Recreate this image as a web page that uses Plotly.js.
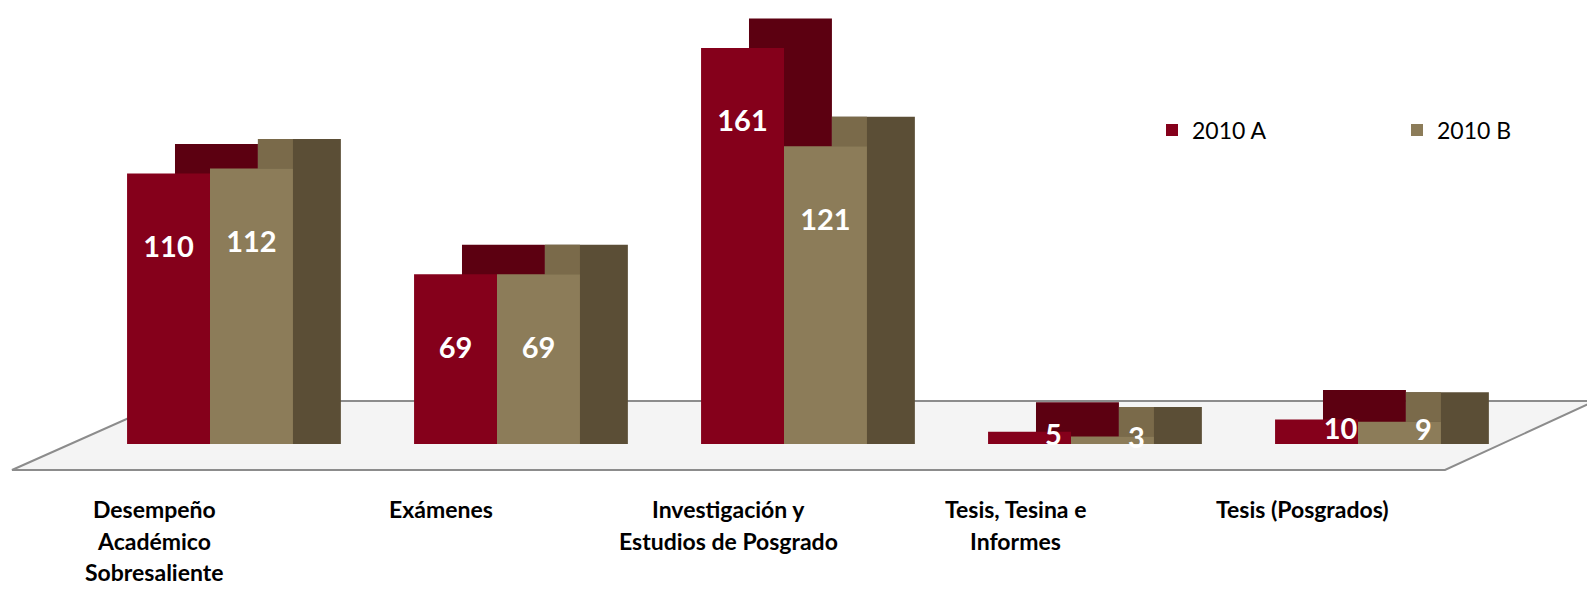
<!DOCTYPE html>
<html><head><meta charset="utf-8">
<script src="https://cdn.plot.ly/plotly-3.0.1.min.js"></script>
<style>html,body{margin:0;padding:0;background:#fff}#chart{width:1587px;height:589px}</style>
</head><body><div id="chart"></div>
<script>
// ---- data ----
const categories = ["Desempeño Académico Sobresaliente", "Exámenes", "Investigación y Estudios de Posgrado", "Tesis, Tesina e Informes", "Tesis (Posgrados)"];
const tickLabels = [["Desempeño", "Académico", "Sobresaliente"], ["Exámenes"], ["Investigación y", "Estudios de Posgrado"], ["Tesis, Tesina e", "Informes"], ["Tesis (Posgrados)"]];
const seriesNames = ["2010 A", "2010 B"];
const values2010A = [110, 69, 161, 5, 10];
const values2010B = [112, 69, 121, 3, 9];

// ---- layout / style ----
const FIG_W = 1587, FIG_H = 589, PLOT_H = 444;
const W = 0.289;      // front face width (category units)
const DX = 0.167;     // 3D depth offset, x (category units)
const DY = 12;        // 3D depth offset, y (value units)
const YMAX = 180.5;
const idx = categories.map((c, i) => i);
const colA = {front: "#85001b", depth: "#5c0011"};
const colB = {front: "#8c7c59", depth: "#5b4e36", top: "#7a6a4a"};
const FONT = "Lato, 'Open Sans', sans-serif";

const skip = {showlegend: false, hoverinfo: "skip"};
const traces = [
  Object.assign({type: "bar", x: idx, y: values2010A.map(v => v + DY), base: 0, offset: -W + DX, width: W,
    marker: {color: colA.depth}}, skip),
  {type: "bar", name: seriesNames[0], x: idx, y: values2010A, offset: -W, width: W,
    marker: {color: colA.front}, hovertext: categories, hoverinfo: "text+y+name"},
  Object.assign({type: "bar", x: idx, y: values2010B.map(v => v + DY), base: 0, offset: DX, width: W,
    marker: {color: colB.depth}}, skip),
  Object.assign({type: "bar", x: idx, y: values2010B.map(() => DY), base: values2010B, offset: DX, width: W - DX,
    marker: {color: colB.top}}, skip),
  {type: "bar", name: seriesNames[1], x: idx, y: values2010B, offset: 0, width: W,
    marker: {color: colB.front}, hovertext: categories, hoverinfo: "text+y+name"},
];

function labelY(v) { return v > 40 ? v - 31 : v / 2; }
function labelX(i, v, side) { return i + side * W / 2 + (v > 40 ? 0 : DX / 2); }
[values2010A, values2010B].forEach((vals, s) => {
  const side = s === 0 ? -1 : 1;
  traces.push(Object.assign({
    type: "scatter", mode: "text",
    x: vals.map((v, i) => labelX(i, v, side)),
    y: vals.map(labelY),
    text: vals.map(String),
    textposition: "middle center",
    textfont: {family: FONT, size: 29, color: "#ffffff", weight: 700},
    cliponaxis: false
  }, skip));
});

// x range so group centers land at 210 + 287*i px
const r0 = -210 / 287, r1 = r0 + FIG_W / 287;

function px2paper(x, y) { return [(x / FIG_W).toFixed(5), ((PLOT_H - y) / PLOT_H).toFixed(5)]; }
const floorPts = [[12, 470], [1445, 470], [1595, 401], [167, 401]].map(p => px2paper(p[0], p[1]));
const floorPath = "M" + floorPts.map(p => p.join(",")).join(" L") + " Z";

const annotations = [];
tickLabels.forEach((lines, i) => {
  lines.forEach((t, j) => {
    annotations.push({
      x: i, xref: "x", xshift: -56,
      y: (PLOT_H - (509 + 31.5 * j)) / PLOT_H, yref: "paper", yanchor: "middle",
      text: t, showarrow: false,
      font: {family: FONT, size: 23, color: "#000", weight: 700}
    });
  });
});

const layout = {
  width: FIG_W, height: FIG_H,
  margin: {l: 0, r: 0, t: 0, b: FIG_H - PLOT_H, pad: 0, autoexpand: false},
  paper_bgcolor: "#ffffff", plot_bgcolor: "rgba(0,0,0,0)",
  barmode: "overlay",
  font: {family: FONT},
  xaxis: {range: [r0, r1], showgrid: false, zeroline: false, showticklabels: false, ticks: "", showline: false, fixedrange: true},
  yaxis: {range: [0, YMAX], showgrid: false, zeroline: false, showticklabels: false, ticks: "", showline: false, fixedrange: true},
  showlegend: true,
  legend: {orientation: "h", x: 1152 / FIG_W, xanchor: "left", y: (PLOT_H - 130) / PLOT_H, yanchor: "middle",
    entrywidth: 200, entrywidthmode: "pixels",
    font: {family: FONT, size: 23, color: "#000"}, bgcolor: "rgba(0,0,0,0)"},
  shapes: [{type: "path", xref: "paper", yref: "paper", path: floorPath, layer: "below",
    fillcolor: "#f4f4f4", line: {color: "#8c8c8c", width: 2}}],
  annotations: annotations
};

Plotly.newPlot("chart", traces, layout, {displayModeBar: false});
</script>
</body></html>
